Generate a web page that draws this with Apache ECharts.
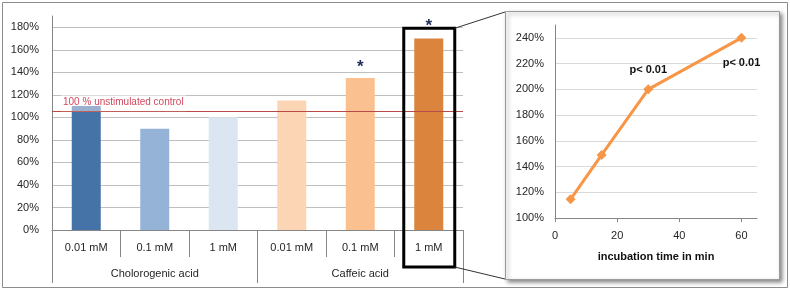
<!DOCTYPE html>
<html>
<head>
<meta charset="utf-8">
<script src="https://cdn.jsdelivr.net/npm/echarts@6/dist/echarts.min.js"></script>
<style>
html,body{margin:0;padding:0;background:#fff;}
#c{width:790px;height:291px;}
</style>
</head>
<body>
<div id="c"></div>
<script>
// ---- data ----
var concentrations = ['0.01 mM', '0.1 mM', '1 mM', '0.01 mM', '0.1 mM', '1 mM'];
var compounds = ['Cholorogenic acid', 'Caffeic acid'];
var barValues = [110, 90, 100, 115, 135, 170];
var barColors = ['#4572A7', '#95B3D7', '#DCE6F2', '#FCD5B5', '#FAC090', '#DB843D'];
var significant = [false, false, false, false, true, true];
var controlLevel = 105.5;
var controlText = '100 % unstimulated control';
var leftTicks = [0, 20, 40, 60, 80, 100, 120, 140, 160, 180];
var times = [5, 15, 30, 60];
var timeValues = [114.5, 149, 200, 240];
var timeLabels = ['', '', 'p< 0.01', 'p< 0.01'];
var rightYTicks = [100, 120, 140, 160, 180, 200, 220, 240];
var rightXTicks = [0, 20, 40, 60];

var FONT = '"Liberation Sans", Arial, sans-serif';
var TXT = '#262626';
var AX = '#868686';

var chart = echarts.init(document.getElementById('c'), null, {renderer: 'canvas'});

var barData = barValues.map(function (v, i) {
  var d = {value: v, itemStyle: {color: barColors[i]}};
  if (significant[i]) {
    d.label = {show: true, formatter: '*', position: 'top', distance: i === 5 ? 4 : 2,
      fontSize: 17, fontWeight: 'bold', color: '#1F2D5A', fontFamily: FONT};
  }
  return d;
});

var lineData = times.map(function (t, i) {
  var d = {value: [t, timeValues[i]]};
  if (timeLabels[i]) {
    d.label = {show: true, formatter: timeLabels[i], fontWeight: 'bold', fontSize: 11,
      color: '#111', fontFamily: FONT,
      position: i === 3 ? 'bottom' : 'top', distance: i === 3 ? 15 : 9};
  }
  return d;
});

var option = {
  animation: false,
  backgroundColor: '#fff',
  textStyle: {fontFamily: FONT},
  grid: [
    {left: 52, right: 327, top: 16, bottom: 61},
    {left: 555, right: 33, top: 25, bottom: 73}
  ],
  xAxis: [
    {
      type: 'category', gridIndex: 0, data: concentrations, position: 'bottom',
      axisLine: {lineStyle: {color: AX}},
      axisTick: {show: true, interval: 0, length: 27, lineStyle: {color: AX}},
      axisLabel: {interval: 0, margin: 12, fontSize: 11, color: TXT, fontFamily: FONT}
    },
    {
      type: 'category', gridIndex: 0, data: compounds, position: 'bottom',
      axisLine: {show: false},
      axisTick: {show: true, interval: 0, length: 53, lineStyle: {color: AX}},
      axisLabel: {interval: 0, margin: 38, fontSize: 11, color: TXT, fontFamily: FONT}
    },
    {
      type: 'value', gridIndex: 1, min: 0, max: 65, interval: 20,
      axisLine: {show: true, lineStyle: {color: AX}},
      axisTick: {show: true, length: 4, customValues: rightXTicks, lineStyle: {color: AX}},
      axisLabel: {customValues: rightXTicks, margin: 12, fontSize: 11, color: TXT, fontFamily: FONT},
      splitLine: {show: false},
      name: 'incubation time in min', nameLocation: 'middle', nameGap: 33,
      nameTextStyle: {fontWeight: 'bold', fontSize: 11, color: '#111', fontFamily: FONT}
    }
  ],
  yAxis: [
    {
      type: 'value', gridIndex: 0, min: 0, max: 190, interval: 20,
      axisLine: {show: true, lineStyle: {color: AX}},
      axisTick: {show: false},
      axisLabel: {customValues: leftTicks, formatter: '{value}%', margin: 13, fontSize: 11, color: TXT, fontFamily: FONT},
      splitLine: {show: true, showMaxLine: false, lineStyle: {color: '#BFBFBF'}}
    },
    {
      type: 'value', gridIndex: 1, min: 100, max: 250, interval: 20,
      axisLine: {show: true, lineStyle: {color: AX}},
      axisTick: {show: false},
      axisLabel: {customValues: rightYTicks, formatter: '{value}%', margin: 11, fontSize: 11, color: TXT, fontFamily: FONT},
      splitLine: {show: true, showMaxLine: false, showMinLine: false, lineStyle: {color: '#D9D9D9'}}
    }
  ],
  series: [
    {
      type: 'bar', xAxisIndex: 0, yAxisIndex: 0, data: barData, barWidth: 29,
      markLine: {
        silent: true, symbol: 'none', z: 10,
        lineStyle: {color: '#B84A48', width: 1, type: 'solid'},
        label: {show: true, position: 'insideStartTop', formatter: controlText,
          fontSize: 10, color: '#D0485E', fontFamily: FONT, distance: [9, 0],
          backgroundColor: 'rgba(255,255,255,0.45)', padding: [3, 2, 4, 2]},
        data: [{yAxis: controlLevel}]
      }
    },
    {
      type: 'line', xAxisIndex: 2, yAxisIndex: 1, data: lineData,
      symbol: 'diamond', symbolSize: 10,
      lineStyle: {color: '#F79646', width: 3},
      itemStyle: {color: '#F79646'}
    }
  ]
};

chart.setOption(option);

// annotations built from the library's own coordinates
var p1 = chart.convertToPixel({xAxisIndex: 0, yAxisIndex: 0}, [5, 0]);
var p2 = chart.convertToPixel({xAxisIndex: 0, yAxisIndex: 0}, [5, 180]);
var cx = p1[0];
var boxL = cx - 25, boxR = cx + 26, boxT = p2[1] + 1, boxB = p1[1] + 37;
var panel = {x: 505, y: 11, w: 274, h: 268};

chart.setOption({
  graphic: [
    {type: 'rect', z: -10, silent: true,
      shape: {x: 2.5, y: 2.5, width: 785, height: 285},
      style: {fill: '#fff', stroke: '#8C8C8C', lineWidth: 1}},
    {type: 'rect', z: -5, silent: true,
      shape: {x: panel.x + 0.5, y: panel.y + 0.5, width: panel.w, height: panel.h},
      style: {fill: '#fff', stroke: '#9A9A9A', lineWidth: 1,
        shadowBlur: 4, shadowColor: 'rgba(0,0,0,0.45)', shadowOffsetX: 2, shadowOffsetY: 2}},
    {type: 'rect', z: 100, silent: true,
      shape: {x: boxL, y: boxT, width: boxR - boxL, height: boxB - boxT},
      style: {fill: 'none', stroke: '#000', lineWidth: 3}},
    {type: 'line', z: 100, silent: true,
      shape: {x1: boxR, y1: boxT, x2: panel.x, y2: panel.y + 1},
      style: {stroke: '#333', lineWidth: 1}},
    {type: 'line', z: 100, silent: true,
      shape: {x1: boxR, y1: boxB, x2: panel.x, y2: panel.y + panel.h},
      style: {stroke: '#333', lineWidth: 1}}
  ]
});
</script>
</body>
</html>
